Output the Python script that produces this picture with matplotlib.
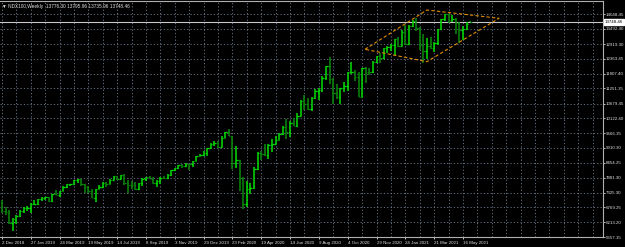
import numpy as np
import matplotlib
matplotlib.use("Agg")
import matplotlib.pyplot as plt
from matplotlib import transforms

# NDX100 weekly bars, first bar = week of 2 Dec 2018
opens = [6960, 6620, 6580, 6180, 6330, 6460, 6620, 6750, 6750, 6905,
         6910, 7090, 7130, 7150, 7000, 7280, 7250, 7380, 7550, 7640,
         7640, 7800, 7840, 7640, 7550, 7390, 7130, 7470, 7520, 7680,
         7670, 7820, 7940, 7850, 8000, 7680, 7630, 7610, 7460, 7690,
         7850, 7900, 7830, 7700, 7760, 7880, 7860, 7990, 8160, 8240,
         8370, 8320, 8400, 8390, 8510, 8700, 8760, 8800, 9000, 9170,
         9190, 9040, 9400, 9600, 9450, 8460, 8540, 7880, 6900, 7480,
         7500, 8230, 8830, 8780, 8730, 9120, 9150, 9320, 9550, 9810,
         9590, 9950, 9850, 10210, 10770, 10660, 10460, 10900, 11140, 11180,
         11630, 12110, 11620, 11090, 10940, 11250, 11330, 11850, 11850, 11680,
         10930, 12000, 11870, 11850, 12260, 12460, 12380, 12760, 12800, 12890,
         13110, 12840, 13370, 12930, 13600, 13800, 13530, 12900, 12670, 12830,
         12780, 12950, 13480, 13850, 14040, 13820, 13860, 13720, 13430, 13470,
         13776.30]
highs = [7050, 6790, 6680, 6370, 6500, 6660, 6770, 6810, 6940, 7040,
         7100, 7150, 7170, 7170, 7290, 7420, 7400, 7560, 7640, 7650,
         7810, 7850, 7840, 7640, 7570, 7450, 7480, 7610, 7740, 7730,
         7830, 7940, 7970, 8000, 8030, 7790, 7770, 7740, 7700, 7870,
         7900, 7940, 7900, 7790, 7920, 7960, 8020, 8170, 8260, 8380,
         8400, 8440, 8410, 8520, 8700, 8780, 8880, 9020, 9180, 9270,
         9280, 9460, 9620, 9730, 9450, 9070, 8540, 7900, 7750, 7700,
         8300, 8840, 8880, 9140, 9140, 9350, 9450, 9570, 9850, 10100,
         10020, 10140, 10310, 10800, 11010, 10880, 10930, 11240, 11280, 11700,
         12110, 12440, 11640, 11420, 11280, 11480, 11870, 12250, 11960, 11880,
         12010, 12070, 12030, 12270, 12470, 12580, 12780, 12860, 12920, 13110,
         13180, 13460, 13620, 13620, 13840, 13880, 13560, 13280, 13160, 13190,
         13000, 13490, 13850, 14060, 14060, 14010, 13880, 13740, 13580, 13760,
         13795.96]
lows = [6560, 6490, 6150, 5900, 6160, 6420, 6560, 6630, 6570, 6850,
        6880, 7030, 7060, 6970, 6990, 7240, 7170, 7370, 7510, 7570,
        7620, 7700, 7560, 7330, 7300, 7130, 6980, 7450, 7500, 7540,
        7650, 7790, 7820, 7830, 7600, 7300, 7450, 7440, 7440, 7590,
        7780, 7830, 7650, 7550, 7660, 7850, 7830, 7970, 8130, 8200,
        8260, 8310, 8180, 8290, 8500, 8690, 8700, 8710, 8990, 9100,
        9000, 9040, 9380, 9450, 8200, 8250, 7400, 6700, 6770, 7290,
        7470, 8160, 8540, 8720, 8600, 8850, 9140, 9290, 9490, 9360,
        9430, 9840, 9810, 10200, 10430, 10420, 10390, 10850, 10820, 11120,
        11550, 11420, 10670, 10850, 10680, 11120, 11150, 11780, 11530, 10920,
        10920, 11470, 11770, 11830, 12210, 12200, 12370, 12590, 12650, 12520,
        12800, 12830, 12880, 12900, 13560, 13420, 12690, 12210, 12350, 12720,
        12600, 12880, 13440, 13780, 13700, 13730, 13280, 12940, 13060, 13460,
        13735.96]
closes = [6620, 6580, 6180, 6330, 6460, 6620, 6750, 6750, 6905, 6910,
          7090, 7130, 7150, 7000, 7280, 7250, 7380, 7550, 7640, 7640,
          7800, 7840, 7640, 7550, 7390, 7130, 7470, 7520, 7680, 7670,
          7820, 7940, 7850, 8000, 7680, 7630, 7610, 7460, 7690, 7850,
          7900, 7830, 7700, 7760, 7880, 7860, 7990, 8160, 8240, 8370,
          8320, 8400, 8390, 8510, 8700, 8760, 8800, 9000, 9170, 9190,
          9040, 9400, 9600, 9450, 8460, 8540, 7880, 6900, 7480, 7500,
          8230, 8830, 8780, 8730, 9120, 9150, 9320, 9550, 9810, 9590,
          9950, 9850, 10210, 10770, 10660, 10460, 10900, 11140, 11180, 11630,
          12110, 11620, 11090, 10940, 11250, 11330, 11850, 11850, 11680, 10930,
          12000, 11870, 11850, 12260, 12460, 12380, 12760, 12800, 12890, 13110,
          12840, 13370, 12930, 13600, 13800, 13530, 12900, 12670, 12830, 12780,
          12950, 13480, 13850, 14040, 13820, 13860, 13720, 13430, 13470, 13690,
          13748.46]

date_labels = ['2 Dec 2018', '27 Jan 2019', '24 Mar 2019', '19 May 2019', '14 Jul 2019',
               '8 Sep 2019', '3 Nov 2019', '29 Dec 2019', '23 Feb 2020', '19 Apr 2020',
               '14 Jun 2020', '9 Aug 2020', '4 Oct 2020', '29 Nov 2020', '24 Jan 2021',
               '21 Mar 2021', '16 May 2021']
price_ticks = [5657.15, 6213.20, 6769.25, 7325.30, 7881.30, 8454.25, 9010.30, 9566.35,
               10122.40, 10679.45, 11251.35, 11807.40, 12363.45, 12919.30, 13492.40, 14048.45]
last_price = 13748.46
title = 'NDX100,Weekly  13776.30 13795.96 13735.96 13748.46'

# channel drawn on the chart (week index, price)
chan_x = [100.8, 118, 138, 118, 100.8]
chan_y = [12720, 14199, 13887, 12254, 12720]

bg = 'black'
fg = '#e0e0e0'
grid_c = '#6f7f8f'
up_c = '#00e000'
dn_c = '#0a8a0a'
fam = 'Liberation Sans'
fs = 3.2

fig = plt.figure(figsize=(6.25, 2.47), dpi=100, facecolor=bg)
ax = fig.add_axes([0.0, 10 / 247, 603 / 625, 235.5 / 247])
ax.set_facecolor(bg)

weeks = np.arange(len(closes))
o = np.array(opens); h = np.array(highs); l = np.array(lows); c = np.array(closes)
cols = [up_c if cc >= oo else dn_c for oo, cc in zip(o, c)]
ax.vlines(weeks, l, h, colors=cols, linewidth=1.1, zorder=3)
ax.hlines(o, weeks - 0.4, weeks, colors=cols, linewidth=0.9, zorder=3)
ax.hlines(c, weeks, weeks + 0.4, colors=cols, linewidth=0.9, zorder=3)

ax.plot(chan_x, chan_y, color='#e08c00', linewidth=0.8, linestyle=(0, (3, 2)), zorder=4)
ax.axhline(last_price, color='#c8c8c8', linewidth=0.8, zorder=2)

ax.set_xlim(-0.56, 166.9)
ax.set_ylim(5657.15, 14519)

# grid
for gx in np.arange(0, 167, 4):
    ax.axvline(gx, color=grid_c, linewidth=0.6, linestyle=(0, (1.5, 2.5)), zorder=1)
for gy in price_ticks:
    ax.axhline(gy, color=grid_c, linewidth=0.6, linestyle=(0, (1.5, 2.5)), zorder=1)

# price axis on the right
ax.yaxis.tick_right()
ax.set_yticks(price_ticks)
ax.set_yticklabels(['%.2f' % p for p in price_ticks], family=fam)
ax.tick_params(axis='y', colors=fg, labelsize=fs, length=1.2, pad=0.6, width=0.6)
ax.tick_params(axis='x', colors=fg, labelsize=fs, length=1.5, pad=1.5, width=0.6)

ax.set_xticks(np.arange(len(date_labels)) * 8)
ax.set_xticklabels(date_labels, ha='left', family=fam)

for s in ['top', 'right', 'bottom']:
    ax.spines[s].set_color('#b0b0b0')
    ax.spines[s].set_linewidth(0.8)
ax.spines['left'].set_visible(False)

# current price label
ax.text(1.003, last_price, '%.2f' % last_price,
        transform=transforms.blended_transform_factory(ax.transAxes, ax.transData),
        fontsize=fs, family=fam, color='black', va='center', ha='left',
        bbox=dict(boxstyle='square,pad=0.2', facecolor='white', edgecolor='white'),
        clip_on=False, zorder=6)

ax.text(0.004, 0.988, '\u25bc ' + title, transform=ax.transAxes, fontsize=fs + 0.2, family=fam,
        color=fg, va='top', ha='left', zorder=6)

fig.savefig('out.png', dpi=100, facecolor=bg)
